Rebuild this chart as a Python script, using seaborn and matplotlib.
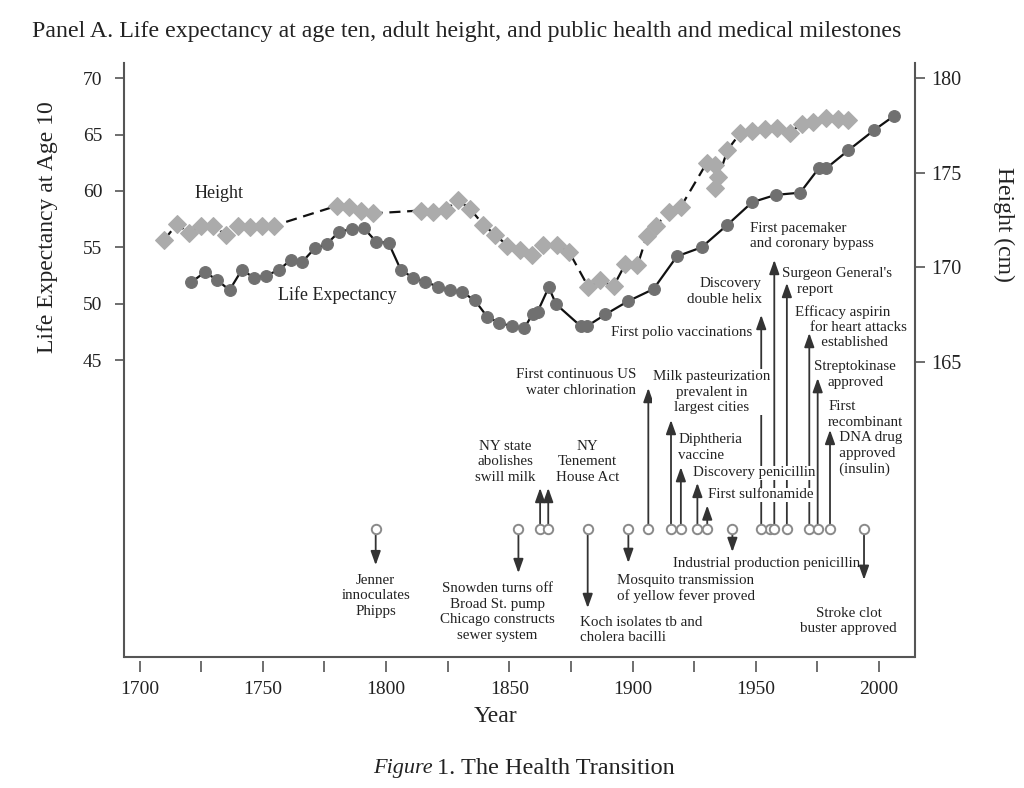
import numpy as np
import pandas as pd
import matplotlib
matplotlib.use('Agg')
import matplotlib.pyplot as plt
import seaborn as sns

# Life expectancy at age 10 (left axis)
le_years = [1721, 1726.5, 1731.5, 1736.5, 1741.5, 1746.5, 1751.5, 1756.5, 1761.5, 1766,
            1771, 1776, 1781, 1786, 1791, 1796, 1801, 1806, 1811, 1816,
            1821, 1826, 1831, 1836, 1841, 1846, 1851, 1856,
            1859.5, 1861.5, 1866, 1869, 1879, 1881.5, 1889, 1898,
            1908.5, 1918, 1928, 1938.5, 1948.5, 1958, 1968, 1975.5,
            1978.5, 1987.5, 1998, 2006]
le_values = [51.9, 52.8, 52.1, 51.2, 53.0, 52.3, 52.5, 53.0, 53.9, 53.7,
             54.9, 55.3, 56.4, 56.6, 56.7, 55.5, 55.4, 53.0, 52.3, 51.95,
             51.5, 51.2, 51.0, 50.3, 48.85, 48.3, 48.0, 47.8,
             49.1, 49.3, 51.45, 49.95, 48.0, 48.0, 49.05, 50.2,
             51.3, 54.2, 55.0, 57.0, 59.0, 59.65, 59.85, 62.0,
             62.0, 63.6, 65.4, 66.65]

# Adult height in cm (right axis)
height_years = [1710, 1715.3, 1720, 1725, 1730, 1735, 1740, 1745, 1749.6, 1754.6,
                1780, 1785, 1789.7, 1794.6,
                1814, 1819.2, 1824.2, 1829.3, 1834, 1839.5, 1844.4, 1849.2, 1854.4, 1859.4,
                1863.8, 1869.3, 1874.3, 1882.1, 1886.9, 1892.3, 1897, 1902, 1905.8, 1909.4,
                1914.6, 1919.6, 1930, 1933.5, 1934.8, 1933.5, 1938.5, 1943.7, 1948.6,
                1953.8, 1958.8, 1963.7, 1968.7, 1973.4, 1978.6, 1983.3, 1987.6]
height_values = [171.45, 172.3, 171.8, 172.2, 172.2, 171.7, 172.2, 172.15, 172.2, 172.2,
                 173.25, 173.2, 173.0, 172.85,
                 173.0, 172.9, 173.05, 173.55, 173.1, 172.25, 171.7, 171.15, 170.9, 170.65,
                 171.2, 171.2, 170.8, 168.95, 169.3, 169.0, 170.15, 170.1, 171.65, 172.2,
                 172.9, 173.2, 175.5, 175.4, 174.8, 174.2, 176.2, 177.1, 177.2,
                 177.3, 177.35, 177.1, 177.6, 177.7, 177.9, 177.85, 177.8]

# Public health and medical milestones
event_years = [1795.8, 1853.7, 1881.8, 1898.3, 1940.5, 1993.9,
               1862.5, 1865.8, 1906.4, 1915.6, 1919.6, 1926.3, 1930.3,
               1955.8, 1952.2, 1957.5, 1962.6, 1971.7, 1975.1, 1980.1]
event_labels = ["Jenner\ninnoculates\nPhipps",
                "Snowden turns off\nBroad St. pump\nChicago constructs\nsewer system",
                "Koch isolates tb and\ncholera bacilli",
                "Mosquito transmission\nof yellow fever proved",
                "Industrial production penicillin",
                "Stroke clot\nbuster approved",
                "NY state\nabolishes\nswill milk",
                "NY\nTenement\nHouse Act",
                "First continuous US\nwater chlorination",
                "Milk pasteurization\nprevalent in\nlargest cities",
                "Diphtheria\nvaccine",
                "Discovery penicillin",
                "First sulfonamide",
                "First polio vaccinations",
                "Discovery\ndouble helix",
                "First pacemaker\nand coronary bypass",
                "Surgeon General's\n    report",
                "Efficacy aspirin\n    for heart attacks\n       established",
                "Streptokinase\napproved",
                "First\nrecombinant\n   DNA drug\n   approved\n   (insulin)"]

# annotation layout: arrow tip (left-axis units), label x (year), label y, alignment
layout = [(26.8, 1795.8, 24.07, 'center'), (26.1, 1845.2, 22.64, 'center'),
          (23.0, 1878.7, 21.06, 'left'), (27.0, 1893.7, 24.75, 'left'),
          (27.97, 1916.4, 26.97, 'left'), (25.5, 1987.6, 21.85, 'center'),
          (33.65, 1848.5, 35.98, 'center'), (33.65, 1881.7, 35.98, 'center'),
          (42.52, 1901.4, 43.0, 'right'), (39.68, 1932.0, 42.16, 'center'),
          (35.5, 1918.5, 37.24, 'left'), (34.1, 1924.5, 34.98, 'left'),
          (32.1, 1930.6, 33.03, 'left'), (None, 1948.5, 47.4, 'right'),
          (49.0, 1952.4, 51.08, 'right'), (53.88, 1947.7, 56.0, 'left'),
          (51.84, 1960.5, 51.97, 'left'), (47.4, 1966.0, 47.93, 'left'),
          (43.4, 1990.3, 43.7, 'center'), (38.8, 1979.3, 38.08, 'left')]
masked = {"Milk pasteurization\nprevalent in\nlargest cities", "Discovery penicillin", "First sulfonamide"}
EVENT_Y = 30

sns.set_style('ticks')
plt.rcParams['font.family'] = ['Liberation Serif', 'DejaVu Serif']
TXT = '#222222'
SPINE = '#555555'

fig = plt.figure(figsize=(10.24, 7.88), dpi=100)
ax = fig.add_axes([0.1211, 0.1662, 0.7725, 0.7535])
ax2 = ax.twinx()

# life expectancy
sns.lineplot(x=le_years, y=le_values, ax=ax, estimator=None, sort=False, color='#111111',
             lw=1.6, marker='o', markersize=8.5, markerfacecolor='#707070',
             markeredgecolor='#707070', zorder=3)
# height
sns.lineplot(x=height_years, y=height_values, ax=ax2, estimator=None, sort=False, color='#111111',
             lw=1.6, linestyle=(0, (5, 3)), marker='D', markersize=9.5, markerfacecolor='#ababab',
             markeredgecolor='#ababab', zorder=3)

# milestones
ev = pd.DataFrame({'year': event_years, 'y': EVENT_Y})
sns.scatterplot(data=ev, x='year', y='y', ax=ax, marker='o', s=46, facecolor='white',
                edgecolor='#8a8a8a', linewidth=1.4, zorder=6)

for yr, lab, (tip, lx, ly, ha) in zip(event_years, event_labels, layout):
    if tip is not None:
        start = EVENT_Y - 0.45 if tip < EVENT_Y else EVENT_Y + 0.45
        ax.annotate('', xy=(yr, tip), xytext=(yr, start),
                    arrowprops=dict(arrowstyle='-|>,head_length=0.7,head_width=0.25',
                                    color='#333333', lw=1.3, shrinkA=0, shrinkB=0,
                                    mutation_scale=12), zorder=2)
    kw = {}
    if lab in masked:
        kw['bbox'] = dict(boxstyle='square,pad=0.05', fc='white', ec='none')
    ax.text(lx, ly, lab, ha=ha, va='center', multialignment=ha, fontsize=10.8,
            linespacing=1.24, color=TXT, zorder=4, **kw)

ax.text(1722.5, 59.82, 'Height', fontsize=13, color=TXT, ha='left', va='center')
ax.text(1756.2, 50.77, 'Life Expectancy', fontsize=13, color=TXT, ha='left', va='center')

# axes
ax.set_xlim(1693.7, 2014.6)
ax.set_ylim(18.65, 71.33)
ax2.set_ylim(149.38, 180.79)
ax.set_xticks(np.arange(1700, 2001, 50))
ax.set_xticks(np.arange(1725, 2001, 50), minor=True)
ax.set_yticks(np.arange(45, 71, 5))
ax2.set_yticks(np.arange(165, 181, 5))

for a in (ax, ax2):
    a.spines['top'].set_visible(False)
ax.spines['right'].set_visible(False)
ax2.spines['left'].set_visible(False)
ax2.spines['bottom'].set_visible(False)
ax.spines['left'].set_color(SPINE)
ax2.spines['right'].set_color(SPINE)
ax.spines['left'].set_linewidth(1.5)
ax2.spines['right'].set_linewidth(1.5)
ax.spines['bottom'].set_position(('outward', 3))
ax.spines['bottom'].set_visible(False)
ax.plot([0, 1], [0, 0], transform=ax.transAxes, color=SPINE, lw=1.5, clip_on=False, zorder=5)

ax.tick_params(axis='x', which='both', direction='out', length=8, width=1.2, color=SPINE,
               labelsize=14, labelcolor=TXT, pad=6)
ax.tick_params(axis='y', direction='out', length=6.5, width=1.2, color=SPINE,
               labelsize=14, labelcolor=TXT, pad=9)
ax2.tick_params(axis='y', direction='out', length=7, width=1.2, color=SPINE,
                labelsize=14.5, labelcolor=TXT, pad=5)

ax.set_xlabel('Year', fontsize=17, color=TXT, va='center')
ax.xaxis.set_label_coords(0.469, -0.0994)
ax.set_ylabel('Life Expectancy at Age 10', fontsize=17, color=TXT, va='center')
ax.yaxis.set_label_coords(-0.0961, 0.724)
ax2.set_ylabel('Height (cm)', fontsize=17, color=TXT, rotation=270, va='center', ha='center')
ax2.yaxis.set_label_coords(1.1125, 0.729)

fig.text(32 / 1024, 1 - 32 / 788,
         'Panel A. Life expectancy at age ten, adult height, and public health and medical milestones',
         fontsize=17.2, color=TXT, ha='left', va='center')
fig.text(433 / 1024, 1 - 768 / 788, 'Figure', fontsize=16, style='italic', color=TXT,
         ha='right', va='center')
fig.text(437 / 1024, 1 - 768 / 788, '1. The Health Transition', fontsize=17.5, color=TXT,
         ha='left', va='center')

fig.savefig('out.png', dpi=100)
